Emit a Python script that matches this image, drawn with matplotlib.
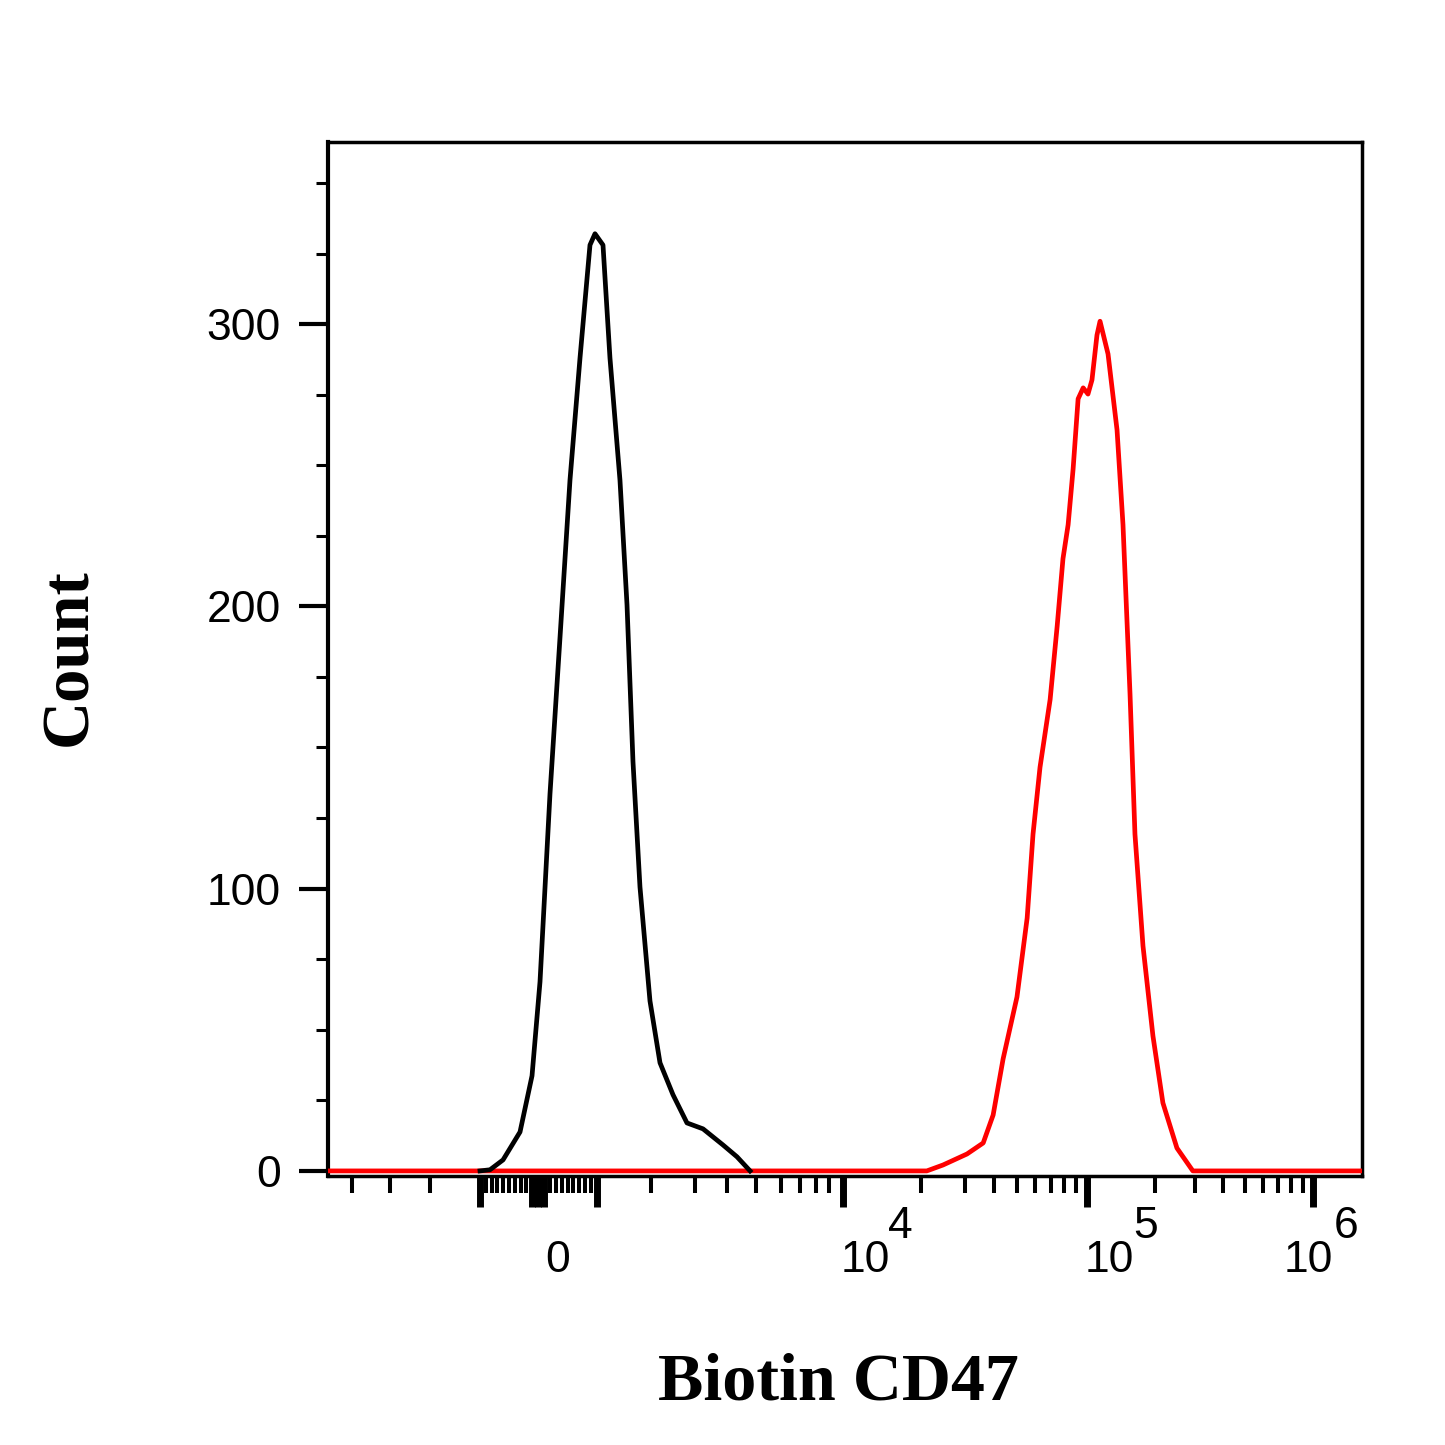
#!/usr/bin/env python3
"""
Biotin CD47 flow cytometry histogram (isotype vs. stained), biexponential x axis.

Saves: out.png
"""

import matplotlib.pyplot as plt
import numpy as np
from matplotlib.ticker import FixedLocator, NullFormatter

# Biex axis calibration: data value -> display channel
AXIS_VALUES = [-5000, -4000, -3000, -2000, -1000, 0, 1000, 2000, 3000, 4000,
               5000, 6000, 7000, 8000, 9000, 1e4, 2e4, 3e4, 1e5, 1e6, 2e6]
AXIS_CHANNELS = [-6, 24, 62, 102, 152, 210, 269, 323, 367, 399,
                 428, 453, 472, 488, 501, 515, 593, 637, 759, 985, 1053]
AXIS_SPAN = (0, 1034)

# Isotype control (black)
ISO_X = [-1000, -828, -603, -310, -103, 34, 203, 373, 542, 712, 881, 966,
         1080, 1181, 1343, 1470, 1587, 1736, 1974, 2173, 2449, 2786, 3224,
         3858, 4320, 4777]
ISO_Y = [0, 0.4, 3.9, 13.8, 33.7, 67, 133.5, 189, 244.7, 288, 328, 332,
         328, 288, 244.7, 200.5, 145, 100.6, 60.2, 38.3, 27, 17, 14.9,
         9.2, 5.0, 0]

# Biotin CD47 stained (red)
CD47_X = [-5000, 1.06e4, 2.11e4, 2.45e4, 3.06e4, 3.59e4, 3.96e4, 4.37e4,
          5.01e4, 5.54e4, 5.87e4, 6.29e4, 6.95e4, 7.45e4, 7.89e4, 8.30e4,
          8.72e4, 9.16e4, 9.63e4, 1.010e5, 1.052e5, 1.107e5, 1.142e5,
          1.239e5, 1.358e5, 1.443e5, 1.550e5, 1.630e5, 1.769e5, 1.958e5,
          2.167e5, 2.50e5, 2.94e5, 3.50e5, 2e6]
CD47_Y = [0, 0, 0, 2.1, 6.0, 9.9, 19.8, 39.7, 61.6, 89.6, 119.3, 143, 167,
          193, 216.9, 228.9, 248.7, 273.5, 277.4, 275.2, 280.2, 296.1, 301,
          289.4, 262.5, 228.9, 169, 119.3, 79.7, 47.8, 24.1, 8.1, 0, 0, 0]

X_MAJOR = [-1000, -100, 0, 100, 1000, 1e4, 1e5, 1e6]
X_MINOR = ([-4000, -3000, -2000]
           + [-900, -800, -700, -600, -500, -400, -300, -200]
           + [200, 300, 400, 500, 600, 700, 800, 900]
           + [2000, 3000, 4000, 5000, 6000, 7000, 8000, 9000]
           + [2e4, 3e4, 4e4, 5e4, 6e4, 7e4, 8e4, 9e4]
           + [2e5, 3e5, 4e5, 5e5, 6e5, 7e5, 8e5, 9e5])
X_LABEL_TICKS = [0, 1e4, 1e5, 1e6]
X_LABEL_BASE = ["0", "10", "10", "10"]
X_LABEL_EXP = ["", "4", "5", "6"]

Y_MAJOR = [0, 100, 200, 300]
Y_MINOR = [25, 50, 75, 125, 150, 175, 225, 250, 275, 325, 350]
Y_LIM = (-1.8, 364.5)

TICK_FONT = "Liberation Sans"
TITLE_FONT = "Liberation Serif"


def _g(x):
    x = np.asarray(x, dtype=float)
    a = np.abs(x)
    return np.where(a <= 1000, x / 1000.0,
                    np.sign(x) * (1 + np.log10(np.maximum(a, 1000) / 1000.0)))


def _ginv(u):
    u = np.asarray(u, dtype=float)
    a = np.abs(u)
    return np.where(a <= 1, u * 1000.0,
                    np.sign(u) * 1000.0 * 10 ** (np.maximum(a, 1) - 1))


G_ANCH = _g(AXIS_VALUES)
C_ANCH = np.asarray(AXIS_CHANNELS, dtype=float)


def _interp_ext(x, xp, fp):
    x = np.asarray(x, dtype=float)
    y = np.interp(x, xp, fp)
    lo = fp[0] + (x - xp[0]) * (fp[1] - fp[0]) / (xp[1] - xp[0])
    hi = fp[-1] + (x - xp[-1]) * (fp[-1] - fp[-2]) / (xp[-1] - xp[-2])
    return np.where(x < xp[0], lo, np.where(x > xp[-1], hi, y))


def biex_forward(x):
    return _interp_ext(_g(x), G_ANCH, C_ANCH)


def biex_inverse(c):
    return _ginv(_interp_ext(c, C_ANCH, G_ANCH))


def main():
    W = H = 1445
    fig = plt.figure(figsize=(W / 100, H / 100), dpi=100)
    ax = fig.add_axes([328 / W, 1 - 1176 / H, (1362 - 328) / W, (1176 - 142) / H])

    ax.set_xscale("function", functions=(biex_forward, biex_inverse))
    ax.set_xlim(float(biex_inverse(AXIS_SPAN[0])), float(biex_inverse(AXIS_SPAN[1])))
    ax.set_ylim(*Y_LIM)

    ax.plot(CD47_X, CD47_Y, color="#ff0000", lw=3.4, solid_joinstyle="round", zorder=3)
    ax.plot(ISO_X, ISO_Y, color="black", lw=3.4, solid_joinstyle="round", zorder=4)

    for side in ("top", "right", "bottom"):
        ax.spines[side].set_linewidth(2.5)
    ax.spines["left"].set_linewidth(3.0)

    # y axis
    ax.yaxis.set_major_locator(FixedLocator(Y_MAJOR))
    ax.yaxis.set_minor_locator(FixedLocator(Y_MINOR))
    ax.tick_params(axis="y", which="major", direction="out", length=21, width=3.0,
                   pad=13, labelsize=32)
    ax.tick_params(axis="y", which="minor", direction="out", length=9, width=2.2)
    for lab in ax.get_yticklabels():
        lab.set_family(TICK_FONT)

    # x axis (labels drawn separately, offset like the original software)
    ax.xaxis.set_major_locator(FixedLocator(X_MAJOR))
    ax.xaxis.set_minor_locator(FixedLocator(X_MINOR))
    ax.xaxis.set_major_formatter(NullFormatter())
    ax.tick_params(axis="x", which="major", direction="out", length=22, width=5)
    ax.tick_params(axis="x", which="minor", direction="out", length=12, width=2.9)

    base_dx = [20, 22, 22, -5]
    exp_dx = [0, 57, 59, 33]
    for val, base, exp, bdx, edx in zip(X_LABEL_TICKS, X_LABEL_BASE, X_LABEL_EXP,
                                        base_dx, exp_dx):
        ax.annotate(base, xy=(val, 0), xycoords=("data", "axes fraction"),
                    xytext=(bdx, -84), textcoords="offset pixels",
                    ha="center", va="center", fontsize=32, family=TICK_FONT)
        if exp:
            ax.annotate(exp, xy=(val, 0), xycoords=("data", "axes fraction"),
                        xytext=(edx, -51), textcoords="offset pixels",
                        ha="center", va="center", fontsize=32, family=TICK_FONT)

    fig.text(838 / W, 1 - 1400 / H, "Biotin CD47", ha="center", va="baseline",
             fontsize=49, fontweight="bold", family=TITLE_FONT)
    fig.text(70 / W, 1 - 657 / H, "Count", ha="center", va="center", rotation=90,
             fontsize=48, fontweight="bold", family=TITLE_FONT)

    fig.savefig("out.png", dpi=100)
    plt.close(fig)


if __name__ == "__main__":
    main()
